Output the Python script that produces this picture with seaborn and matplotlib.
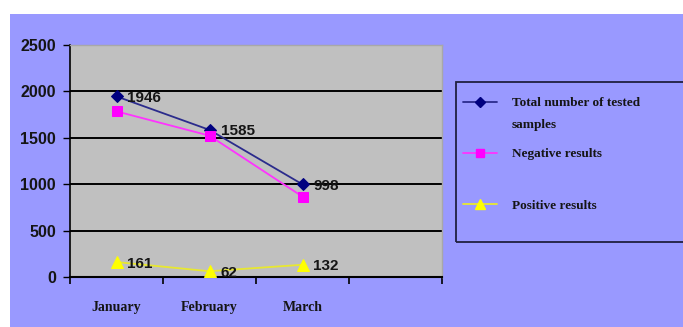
import matplotlib
matplotlib.use("Agg")
import matplotlib.pyplot as plt
from matplotlib.patches import Rectangle
from matplotlib.lines import Line2D
import seaborn as sns
import pandas as pd

months = ["January", "February", "March"]
total = [1946, 1585, 998]
negative = [1785, 1523, 866]
positive = [161, 62, 132]
series_names = ["Total number of tested samples", "Negative results", "Positive results"]
y_ticks = [0, 500, 1000, 1500, 2000, 2500]

sns.set_theme(style="white")
W, H = 683, 327
fig = plt.figure(figsize=(W / 100, H / 100), dpi=100)
fig.patch.set_facecolor("white")
fig.patches.append(Rectangle((10 / W, 0), 1 - 10 / W, (H - 14) / H,
                             transform=fig.transFigure, facecolor="#9999FF",
                             edgecolor="none", zorder=-5))

ax = fig.add_axes([70 / W, (H - 277) / H, 372 / W, 232 / H])
ax.set_zorder(2)
ax.set_facecolor("#C0C0C0")

df = pd.DataFrame({"month": months, "total": total, "negative": negative, "positive": positive})
df["x"] = range(len(months))

styles = [
    ("total", "#000080", "D", 6, "#2B2B8C"),
    ("negative", "#FF00FF", "s", 7, "#FF33FF"),
    ("positive", "#FFFF00", "^", 8, "#E8E830"),
]
for col, mcolor, marker, ms, lcolor in styles:
    sns.lineplot(data=df, x="x", y=col, ax=ax, color=lcolor, lw=1.3,
                 marker=marker, markersize=ms, markerfacecolor=mcolor,
                 markeredgecolor=mcolor, legend=False, zorder=3)

label_font = dict(family="Liberation Sans", weight="bold", size=11, color="#151515")
for vals in (total, positive):
    for i, v in enumerate(vals):
        ax.annotate(str(v), (i, v), xytext=(11, -1.5), textcoords="offset pixels",
                    ha="left", va="center", zorder=5, **label_font)

ax.set_xlim(-0.5, 3.5)
ax.set_ylim(0, 2500)
ax.set_yticks(y_ticks)
ax.set_yticklabels([str(t) for t in y_ticks], fontfamily="Liberation Sans",
                   fontweight="bold", fontsize=11.5, color="#151515")
ax.set_xticks([-0.5, 0.5, 1.5, 2.5, 3.5])
ax.set_xticklabels([])
ax.set_xticks(range(len(months)), minor=True)
ax.set_xticklabels(months, minor=True, fontfamily="Liberation Serif",
                   fontweight="bold", fontsize=10, color="#151515")
ax.tick_params(axis="x", which="minor", length=0, pad=17)
ax.tick_params(axis="x", which="major", length=5, width=1.2, color="black", direction="out", bottom=True)
ax.tick_params(axis="y", length=5, width=1, color="black", pad=5, direction="out", left=True)
ax.set_xlabel("")
ax.set_ylabel("")

for t in y_ticks[1:-1]:
    ax.axhline(t, color="black", lw=1.4, zorder=1)

ax.spines["left"].set_color("black")
ax.spines["left"].set_linewidth(1.2)
ax.spines["bottom"].set_color("black")
ax.spines["bottom"].set_linewidth(1.5)
for s in ("top", "right"):
    ax.spines[s].set_color("#A8A8A8")
    ax.spines[s].set_linewidth(1)

# legend
fig.patches.append(Rectangle((456 / W, (H - 242) / H), 240 / W, 160 / H,
                             transform=fig.transFigure, facecolor="none",
                             edgecolor="#202040", lw=1.3, zorder=2))
handles = [
    Line2D([], [], color="#2B2B8C", lw=1.3, marker="D", markersize=5,
           markerfacecolor="#000080", markeredgecolor="#000080"),
    Line2D([], [], color="#FF33FF", lw=1.3, marker="s", markersize=6,
           markerfacecolor="#FF00FF", markeredgecolor="#FF00FF"),
    Line2D([], [], color="#E8E830", lw=1.3, marker="^", markersize=6.5,
           markerfacecolor="#FFFF00", markeredgecolor="#FFFF00"),
]
leg_labels = ["Total number of tested", series_names[1], series_names[2]]
leg = fig.legend(handles, leg_labels, loc="upper left",
                 bbox_to_anchor=(463 / W, (H - 97) / H), frameon=False,
                 prop=dict(family="Liberation Serif", weight="bold", size=9.5),
                 handlelength=2.6, handletextpad=1.1, labelspacing=2.95,
                 borderpad=0, borderaxespad=0)
for t in leg.get_texts():
    t.set_color("#151515")
fig.text(512 / W, (H - 125) / H, "samples", ha="left", va="center",
         family="Liberation Serif", weight="bold", size=9.5, color="#151515")

fig.savefig("out.png", dpi=100, facecolor=fig.get_facecolor())
